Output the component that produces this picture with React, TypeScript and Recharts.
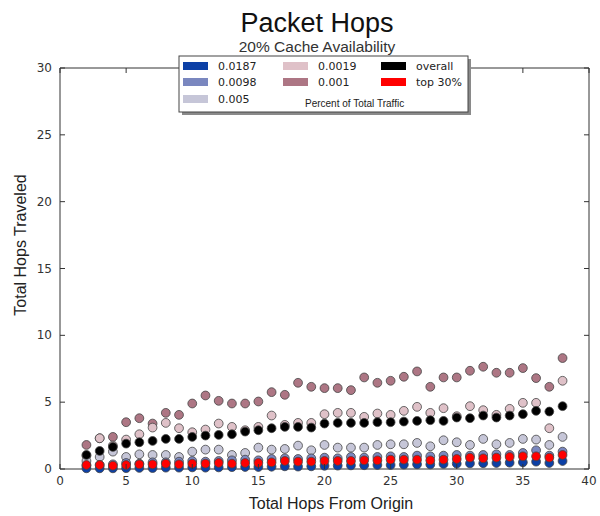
import { ScatterChart, Scatter, XAxis, YAxis, ReferenceArea } from "recharts";

// hop count from origin (x) shared by every series
const HOPS = [
  2, 3, 4, 5, 6, 7, 8, 9, 10, 11, 12, 13, 14, 15, 16, 17, 18, 19, 20, 21, 22,
  23, 24, 25, 26, 27, 28, 29, 30, 31, 32, 33, 34, 35, 36, 37, 38,
];

// total hops traveled, one list per traffic share
const SHARE_0001 = [
  1.8, 2.3, 2.4, 3.5, 3.8, 3.4, 4.2, 4.05, 4.9, 5.5, 5.1, 4.9, 4.9, 5.05, 5.75,
  5.55, 6.45, 6.15, 6.05, 6.05, 5.9, 6.85, 6.45, 6.6, 6.9, 7.3, 6.15, 6.85, 6.85,
  7.35, 7.65, 7.2, 7.2, 7.55, 6.8, 6.15, 8.3,
];
const SHARE_0019 = [
  1.0, 2.3, 1.75, 2.2, 2.6, 3.1, 3.45, 3.05, 2.75, 2.95, 3.4, 3.15, 2.9, 3.15,
  4.0, 3.3, 3.45, 3.45, 4.1, 4.2, 4.2, 3.9, 4.15, 4.05, 4.35, 4.65, 4.2, 4.55,
  3.95, 4.7, 4.4, 4.05, 4.5, 4.95, 4.95, 3.05, 6.6,
];
const SHARE_005 = [
  0.6, 0.9, 1.3, 0.9, 1.1, 1.05, 1.05, 0.9, 1.3, 1.45, 1.45, 1.05, 1.2, 1.6,
  1.45, 1.5, 1.75, 1.4, 1.8, 1.6, 1.6, 1.6, 1.8, 1.85, 1.85, 1.95, 1.7, 2.15,
  2.0, 1.8, 2.25, 1.85, 1.95, 2.25, 2.2, 1.8, 2.4,
];
const SHARE_0098 = [
  0.25, 0.3, 0.35, 0.45, 0.4, 0.5, 0.5, 0.55, 0.6, 0.55, 0.6, 0.65, 0.7, 0.65,
  0.75, 0.8, 0.75, 0.8, 0.85, 0.8, 0.9, 0.85, 0.9, 0.95, 0.9, 1.0, 0.95, 1.0,
  1.05, 1.0, 1.05, 1.1, 1.05, 1.2, 1.4, 1.0, 1.3,
];
const SHARE_0187 = [
  0.05, 0.05, 0.05, 0.06, 0.08, 0.07, 0.1, 0.1, 0.12, 0.1, 0.12, 0.14, 0.15,
  0.15, 0.17, 0.2, 0.18, 0.2, 0.24, 0.25, 0.27, 0.28, 0.3, 0.3, 0.33, 0.35,
  0.34, 0.38, 0.4, 0.42, 0.43, 0.45, 0.47, 0.5, 0.55, 0.45, 0.6,
];
const OVERALL = [
  1.05, 1.35, 1.65, 1.9, 2.0, 2.1, 2.25, 2.25, 2.4, 2.5, 2.55, 2.6, 2.8, 2.9,
  3.05, 3.15, 3.15, 3.1, 3.4, 3.45, 3.45, 3.45, 3.5, 3.5, 3.55, 3.6, 3.65, 3.6,
  3.85, 3.8, 4.0, 3.85, 4.0, 4.1, 4.35, 4.3, 4.7,
];
const TOP_30 = [
  0.3, 0.3, 0.25, 0.3, 0.35, 0.35, 0.4, 0.35, 0.4, 0.4, 0.45, 0.4, 0.45, 0.45,
  0.5, 0.6, 0.55, 0.55, 0.6, 0.6, 0.6, 0.65, 0.65, 0.7, 0.7, 0.7, 0.65, 0.7,
  0.75, 0.85, 0.8, 0.85, 0.9, 0.95, 0.95, 0.85, 1.05,
];

const X_TICKS = [0, 5, 10, 15, 20, 25, 30, 35, 40];
const Y_TICKS = [0, 5, 10, 15, 20, 25, 30];

// draw order: later series sit on top
const SERIES = [
  { name: "0.001", values: SHARE_0001, color: "#ad7684" },
  { name: "0.0019", values: SHARE_0019, color: "#dfc1c8" },
  { name: "0.005", values: SHARE_005, color: "#c6c6d8" },
  { name: "0.0098", values: SHARE_0098, color: "#7a87bf" },
  { name: "0.0187", values: SHARE_0187, color: "#0c40a6" },
  { name: "overall", values: OVERALL, color: "#000000" },
  { name: "top 30%", values: TOP_30, color: "#ff0000" },
];

// legend is laid out column by column, three rows each
const LEGEND_COLUMNS = [
  ["0.0187", "0.0098", "0.005"],
  ["0.0019", "0.001"],
  ["overall", "top 30%"],
];

const W = 600;
const H = 516;
const PLOT = { left: 60, right: 589, top: 68, bottom: 469 };
const TICK_FONT = "'DejaVu Sans', sans-serif";
const LABEL_FONT = "'Liberation Sans', Arial, sans-serif";

function XTick({ x, payload }: any) {
  return (
    <g>
      <line x1={x} x2={x} y1={PLOT.bottom} y2={PLOT.bottom - 5} stroke="#333" />
      <line x1={x} x2={x} y1={PLOT.top} y2={PLOT.top + 5} stroke="#333" />
      <text
        x={x}
        y={PLOT.bottom + 16}
        textAnchor="middle"
        fontFamily={TICK_FONT}
        fontSize={12}
        fill="#333"
      >
        {payload.value}
      </text>
    </g>
  );
}

function YTick({ y, payload }: any) {
  return (
    <g>
      <line x1={PLOT.left} x2={PLOT.left + 5} y1={y} y2={y} stroke="#333" />
      <line x1={PLOT.right} x2={PLOT.right - 5} y1={y} y2={y} stroke="#333" />
      <text
        x={PLOT.left - 8}
        y={y + 4}
        textAnchor="end"
        fontFamily={TICK_FONT}
        fontSize={12}
        fill="#333"
      >
        {payload.value}
      </text>
    </g>
  );
}

function dot(color: string) {
  return (p: any) => (
    <circle
      cx={p.cx}
      cy={p.cy}
      r={4.4}
      fill={color}
      stroke="#444"
      strokeWidth={0.8}
    />
  );
}

function Legend() {
  const colorOf = (name: string) =>
    SERIES.find((s) => s.name === name)?.color ?? "#000";
  const colX = [183, 283, 381];
  const rowY = [66, 82, 99];
  return (
    <g>
      <rect x={182} y={59} width={289} height={56} fill="#8a8a8a" />
      <rect x={179} y={56} width={289} height={56} fill="#fff" stroke="#444" strokeWidth={1} />
      {LEGEND_COLUMNS.map((col, ci) =>
        col.map((name, ri) => (
          <g key={name}>
            <rect
              x={colX[ci]}
              y={rowY[ri] - 4}
              width={25}
              height={8}
              fill={colorOf(name)}
            />
            <text
              x={colX[ci] + 35}
              y={rowY[ri] + 4}
              fontFamily={TICK_FONT}
              fontSize={11}
              fill="#222"
            >
              {name}
            </text>
          </g>
        ))
      )}
      <text
        x={305}
        y={107}
        fontFamily={LABEL_FONT}
        fontSize={10}
        fill="#222"
      >
        Percent of Total Traffic
      </text>
    </g>
  );
}

export default function App() {
  return (
    <div style={{ position: "fixed", left: 0, top: 0, width: W, height: H, background: "#fff" }}>
      <ScatterChart
        width={W}
        height={H}
        margin={{ top: PLOT.top, right: W - PLOT.right, left: 0, bottom: 0 }}
      >
        <XAxis
          type="number"
          dataKey="x"
          domain={[0, 40]}
          ticks={X_TICKS}
          height={H - PLOT.bottom}
          tick={<XTick />}
          tickLine={false}
          axisLine={false}
        />
        <YAxis
          type="number"
          dataKey="y"
          domain={[0, 30]}
          ticks={Y_TICKS}
          width={PLOT.left}
          tick={<YTick />}
          tickLine={false}
          axisLine={false}
        />
        <ReferenceArea
          x1={0}
          x2={40}
          y1={0}
          y2={30}
          fill="none"
          stroke="#333"
          strokeWidth={1}
          ifOverflow="visible"
        />
        {SERIES.map((s) => (
          <Scatter
            key={s.name}
            name={s.name}
            data={HOPS.map((h, i) => ({ x: h, y: s.values[i] }))}
            fill={s.color}
            shape={dot(s.color)}
            isAnimationActive={false}
          />
        ))}
      </ScatterChart>
      <svg
        width={W}
        height={H}
        style={{ position: "absolute", left: 0, top: 0, pointerEvents: "none" }}
      >
        <text x={317} y={32} textAnchor="middle" fontFamily={LABEL_FONT} fontSize={27} fill="#111">
          Packet Hops
        </text>
        <text x={317} y={52} textAnchor="middle" fontFamily={LABEL_FONT} fontSize={15.5} fill="#333">
          20% Cache Availability
        </text>
        <Legend />
        <text x={331} y={509} textAnchor="middle" fontFamily={LABEL_FONT} fontSize={16} fill="#222">
          Total Hops From Origin
        </text>
        <text
          x={26}
          y={245}
          textAnchor="middle"
          fontFamily={LABEL_FONT}
          fontSize={16}
          fill="#222"
          transform="rotate(-90 26 245)"
        >
          Total Hops Traveled
        </text>
      </svg>
    </div>
  );
}
